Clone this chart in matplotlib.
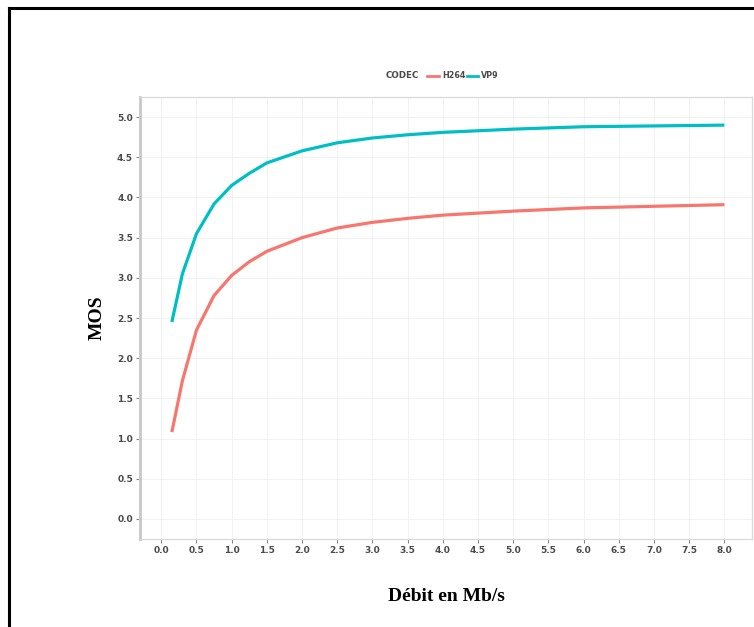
import matplotlib
matplotlib.use("Agg")
import matplotlib.pyplot as plt
from matplotlib.lines import Line2D

# Throughput (Mb/s) and MOS estimates for each codec
debit = [0.15, 0.3, 0.5, 0.75, 1.0, 1.25, 1.5, 2.0, 2.5, 3.0, 3.5, 4.0, 5.0, 6.0, 7.0, 8.0]
mos_h264 = [1.08, 1.72, 2.35, 2.78, 3.03, 3.20, 3.33, 3.50, 3.62, 3.69, 3.74, 3.78, 3.83, 3.87, 3.89, 3.91]
mos_vp9 = [2.45, 3.05, 3.55, 3.92, 4.15, 4.30, 4.43, 4.58, 4.68, 4.74, 4.78, 4.81, 4.85, 4.88, 4.89, 4.90]

codecs = ["H264", "VP9"]
colors = {"H264": "#F8766D", "VP9": "#00BFC4"}

x_ticks = [i * 0.5 for i in range(17)]
y_ticks = [i * 0.5 for i in range(11)]

W, H = 754, 627
fig = plt.figure(figsize=(W / 100, H / 100), dpi=100)
fig.patch.set_facecolor("white")

# outer frame (top and left edges)
fig.add_artist(Line2D([9 / W, 9 / W], [0, 1 - 8 / H], transform=fig.transFigure,
                      color="black", lw=2.2, solid_capstyle="projecting"))
fig.add_artist(Line2D([9 / W, 1], [1 - 8 / H, 1 - 8 / H], transform=fig.transFigure,
                      color="black", lw=2.2, solid_capstyle="projecting"))

left, right, top, bottom = 140, 752, 97, 539
ax = fig.add_axes([left / W, 1 - bottom / H, (right - left) / W, (bottom - top) / H])

ax.plot(debit, mos_h264, color=colors["H264"], lw=2.3, solid_capstyle="butt")
ax.plot(debit, mos_vp9, color=colors["VP9"], lw=2.3, solid_capstyle="butt")

xmin, xmax = 0.15, 8.0
pad = 0.05 * (xmax - xmin)
ax.set_xlim(xmin - pad - 0.06, xmax + pad)
ax.set_ylim(-0.25, 5.25)
ax.set_xticks(x_ticks)
ax.set_xticklabels([f"{v:.1f}" for v in x_ticks])
ax.set_yticks(y_ticks)
ax.set_yticklabels([f"{v:.1f}" for v in y_ticks])

ax.grid(True, color="#f0f0f0", lw=0.6)
ax.set_axisbelow(True)
for s in ax.spines.values():
    s.set_color("#d9d9d9")
    s.set_linewidth(0.9)
ax.spines["left"].set_color("#c8c8c8")
ax.spines["left"].set_linewidth(2.0)

ax.tick_params(axis="both", length=3, width=0.8, color="#888888",
               labelsize=6.5, labelcolor="#4a4a4a", pad=2)
for lab in ax.get_xticklabels() + ax.get_yticklabels():
    lab.set_fontweight("bold")

ax.set_xlabel("Débit en Mb/s", family="Liberation Serif", fontweight="bold",
              fontsize=14, labelpad=24)
ax.set_ylabel("MOS", family="Liberation Serif", fontweight="bold",
              fontsize=14, labelpad=8)

# legend strip above the panel
ly = 1 - 76 / H
fig.text(402 / W, ly, "CODEC", ha="center", va="center", fontsize=6.3,
         fontweight="bold", color="#4a4a4a")
fig.add_artist(Line2D([427 / W, 439 / W], [ly, ly], transform=fig.transFigure,
                      color=colors["H264"], lw=2.0))
fig.text(442 / W, ly, "H264", ha="left", va="center", fontsize=5.8,
         fontweight="bold", color="#4a4a4a")
fig.add_artist(Line2D([467 / W, 478 / W], [ly, ly], transform=fig.transFigure,
                      color=colors["VP9"], lw=2.0))
fig.text(481 / W, ly, "VP9", ha="left", va="center", fontsize=5.8,
         fontweight="bold", color="#4a4a4a")

fig.savefig("out.png", dpi=100)
